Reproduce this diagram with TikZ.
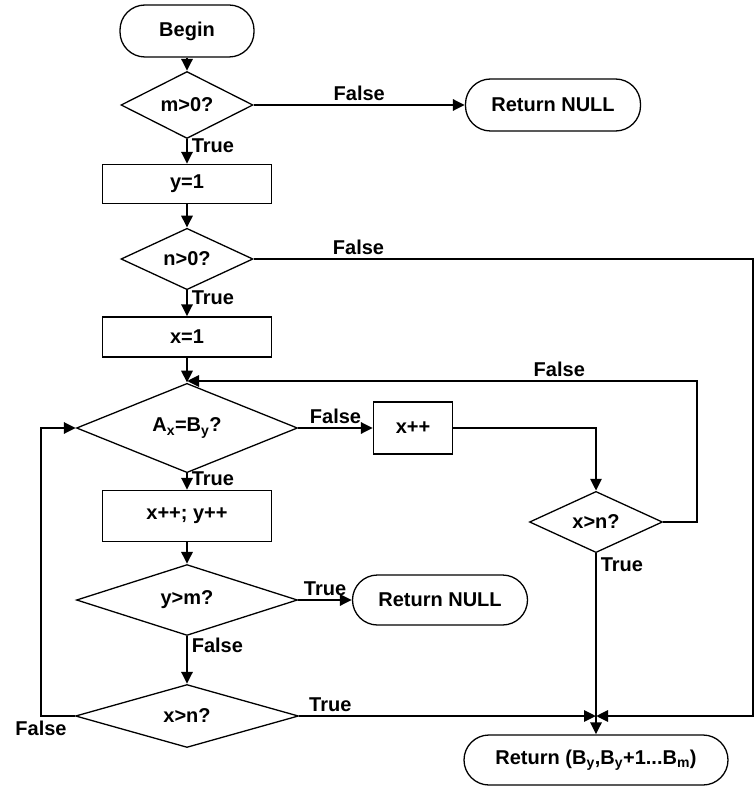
\documentclass[tikz,border=0pt]{standalone}
\usepackage{fontspec}
\setmainfont{Liberation Sans}
\usetikzlibrary{shapes.geometric}
\usetikzlibrary{arrows.meta}

\begin{document}
\begin{tikzpicture}[x=1pt,y=-1pt,
  font=\fontsize{20}{24}\selectfont\bfseries,
  term/.style={draw,line width=1.3pt,rounded corners=25pt,inner sep=0pt},
  box/.style={draw,line width=1.3pt,inner sep=0pt},
  cond/.style={draw,diamond,line width=1.3pt,inner sep=0pt},
  flow/.style={line width=2.9pt,-{Triangle[length=12pt,width=11pt]}}]
  \useasboundingbox (0,0) rectangle (755,786);
  \node[term,minimum width=134pt,minimum height=52pt] (begin) at (187,31) {Begin};
  \node[cond,minimum width=132pt,minimum height=53pt] (m0) at (187,105) {m>0?};
  \node[term,minimum width=175pt,minimum height=52pt] (null1) at (553,105) {Return NULL};
  \node[box,minimum width=169pt,minimum height=39pt] (yone) at (187,184) {y=1};
  \node[cond,minimum width=132pt,minimum height=52pt] (n0) at (187,259) {n>0?};
  \node[box,minimum width=169pt,minimum height=40pt] (xone) at (187,337) {x=1};
  \node[cond,minimum width=221pt,minimum height=63pt] (eq) at (187,428) {A\textsubscript{x}=B\textsubscript{y}?};
  \node[box,minimum width=79pt,minimum height=52pt] (xinc) at (413,428) {x++};
  \node[cond,minimum width=133pt,minimum height=61pt] (xn1) at (596,522) {x>n?};
  \node[box,minimum width=169pt,minimum height=51pt] (xyinc) at (187,516) {x++; y++};
  \node[cond,minimum width=221pt,minimum height=63pt] (ym) at (187,600) {y>m?};
  \node[term,minimum width=175pt,minimum height=50pt] (null2) at (440,600) {Return NULL};
  \node[cond,minimum width=223pt,minimum height=63pt] (xn2) at (187,716) {x>n?};
  \node[term,minimum width=264pt,minimum height=50pt] (result) at (596,760)
    {Return (B\textsubscript{y},B\textsubscript{y}+1...B\textsubscript{m})};
  \coordinate (join) at (596,716);
  \coordinate (rim) at (753,0);
  \coordinate (lft) at (41,0);
  \coordinate (loopR) at (697,381);
  \coordinate (loopL) at (187,381);
  \path[flow]
    (begin) edge (m0)
    (m0) edge node [above] {False} (null1)
    (m0) edge node [right,pos=0.26] {True} (yone)
    (yone) edge (n0)
    (n0) edge node [right,pos=0.3] {True} (xone)
    (xone) edge (eq)
    (eq) edge node [above] {False} (xinc)
    (eq) edge node [right,pos=0.32] {True} (xyinc)
    (xyinc) edge (ym)
    (ym) edge node [above] {True} (null2)
    (ym) edge node [right,pos=0.2] {False} (xn2)
    (join) edge (result);
  \draw[flow] (xinc) -| (xn1);
  \draw[flow] (xn1) -| (loopR) -- node [above,pos=0.27] {False} (loopL);
  \draw[flow,-] (xn1) -- node [right,pos=0.07] {True} (join);
  \draw[flow] (n0) -- node [above,pos=0.21] {False} (n0 -| rim) |- (join);
  \draw[flow] (xn2) -- node [above,pos=0.105] {True} (join);
  \draw[flow] (xn2) -- (xn2 -| lft) node [below] {False} |- (eq);
\end{tikzpicture}
\end{document}
